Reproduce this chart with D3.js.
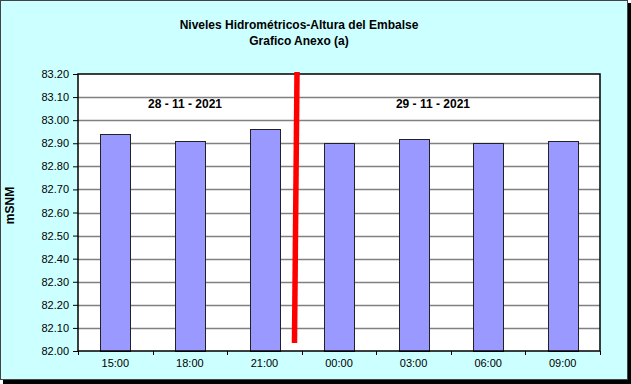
<!DOCTYPE html>
<html>
<head>
<meta charset="utf-8">
<script src="https://cdn.jsdelivr.net/npm/d3@7"></script>
<style>
  html, body { margin: 0; padding: 0; background: #fff; }
  svg { display: block; font-family: "Liberation Sans", Arial, sans-serif; }
</style>
</head>
<body>
<div id="vis"></div>
<script>
const categories = ["15:00", "18:00", "21:00", "00:00", "03:00", "06:00", "09:00"];
const levels = [82.94, 82.91, 82.96, 82.90, 82.92, 82.90, 82.91];
const yTicks = [82.00, 82.10, 82.20, 82.30, 82.40, 82.50, 82.60, 82.70, 82.80, 82.90, 83.00, 83.10, 83.20];
const dayLabels = ["28 - 11 - 2021", "29 - 11 - 2021"];
const dayLabelPos = [1.435, 4.76];     // in category units
const dayLabelLevel = 83.07;
// red day-change marker: [category units, level]
const markerTop = [2.937, 83.209];
const markerBottom = [2.903, 82.035];

const width = 631, height = 384;
const margin = { top: 74, right: 31, bottom: 33, left: 78 };

const svg = d3.select("#vis").append("svg")
  .attr("width", width)
  .attr("height", height);

// frame with shadow
svg.append("rect").attr("x", 3).attr("y", 3).attr("width", 628).attr("height", 381).attr("fill", "#000");
svg.append("rect").attr("x", 0.5).attr("y", 0.5).attr("width", 627).attr("height", 379)
  .attr("fill", "#CCFFFF").attr("stroke", "#444");

const x = d3.scaleBand()
  .domain(categories)
  .range([margin.left, width - margin.right])
  .paddingInner(0.6)
  .paddingOuter(0.3);

const xu = d3.scaleLinear([0, categories.length], [margin.left, width - margin.right]);

const y = d3.scaleLinear([82.0, 83.2], [height - margin.bottom, margin.top]);

// plot area
svg.append("rect")
  .attr("x", margin.left).attr("y", margin.top)
  .attr("width", width - margin.right - margin.left)
  .attr("height", height - margin.bottom - margin.top)
  .attr("fill", "#fff");

// gridlines
svg.append("g")
  .selectAll("line")
  .data(yTicks.slice(1, -1))
  .join("line")
  .attr("x1", margin.left).attr("x2", width - margin.right)
  .attr("y1", d => Math.round(y(d)) + 0.5).attr("y2", d => Math.round(y(d)) + 0.5)
  .attr("stroke", "#808080")
  .attr("stroke-width", 1.5);

// bars
svg.append("g")
  .selectAll("rect")
  .data(levels)
  .join("rect")
  .attr("x", (d, i) => Math.round(x(categories[i])) + 0.5)
  .attr("y", d => Math.round(y(d)) + 0.5)
  .attr("width", Math.round(x.bandwidth()))
  .attr("height", d => Math.round(y(82.0)) - Math.round(y(d)))
  .attr("fill", "#9999FF")
  .attr("stroke", "#222")
  .attr("stroke-width", 1);

// plot border
svg.append("rect")
  .attr("x", margin.left).attr("y", margin.top)
  .attr("width", width - margin.right - margin.left)
  .attr("height", height - margin.bottom - margin.top)
  .attr("fill", "none")
  .attr("stroke", "#000")
  .attr("stroke-width", 1.5);

// y axis
const yAxis = d3.axisLeft(y)
  .tickValues(yTicks)
  .tickFormat(d3.format(".2f"))
  .tickSize(5)
  .tickPadding(4);
svg.append("g")
  .attr("transform", `translate(${margin.left},0)`)
  .call(yAxis)
  .call(g => g.select(".domain").remove())
  .call(g => g.selectAll("line").attr("stroke", "#000"))
  .call(g => g.selectAll("text").attr("fill", "#000").style("font-size", "11px").attr("font-family", null));

// x axis
const xAxis = d3.axisBottom(x).tickSize(0).tickPadding(8);
svg.append("g")
  .attr("transform", `translate(0,${height - margin.bottom})`)
  .call(xAxis)
  .call(g => g.select(".domain").remove())
  .call(g => g.selectAll("text").attr("fill", "#000").style("font-size", "11px").attr("font-family", null));

svg.append("g")
  .selectAll("line")
  .data(d3.range(categories.length + 1))
  .join("line")
  .attr("x1", d => Math.round(xu(d)) + 0.5).attr("x2", d => Math.round(xu(d)) + 0.5)
  .attr("y1", height - margin.bottom).attr("y2", height - margin.bottom + 4)
  .attr("stroke", "#000");

// day labels
svg.append("g")
  .selectAll("text")
  .data(dayLabels)
  .join("text")
  .attr("x", (d, i) => xu(dayLabelPos[i]))
  .attr("y", y(dayLabelLevel))
  .attr("dy", "0.35em")
  .attr("text-anchor", "middle")
  .style("font-size", "12px")
  .style("font-weight", "bold")
  .text(d => d);

// red marker
svg.append("line")
  .attr("x1", xu(markerTop[0])).attr("y1", y(markerTop[1]))
  .attr("x2", xu(markerBottom[0])).attr("y2", y(markerBottom[1]))
  .attr("stroke", "#FF0000")
  .attr("stroke-width", 5.5);

// titles
svg.append("text")
  .attr("x", 299).attr("y", 29)
  .attr("text-anchor", "middle")
  .style("font-size", "12px").style("font-weight", "bold")
  .text("Niveles Hidrométricos-Altura del Embalse");
svg.append("text")
  .attr("x", 299).attr("y", 45)
  .attr("text-anchor", "middle")
  .style("font-size", "12px").style("font-weight", "bold")
  .text("Grafico Anexo (a)");

svg.append("text")
  .attr("transform", `translate(14,${(margin.top + height - margin.bottom) / 2 - 7}) rotate(-90)`)
  .attr("text-anchor", "middle")
  .style("font-size", "12px").style("font-weight", "bold")
  .text("mSNM");
</script>
</body>
</html>
